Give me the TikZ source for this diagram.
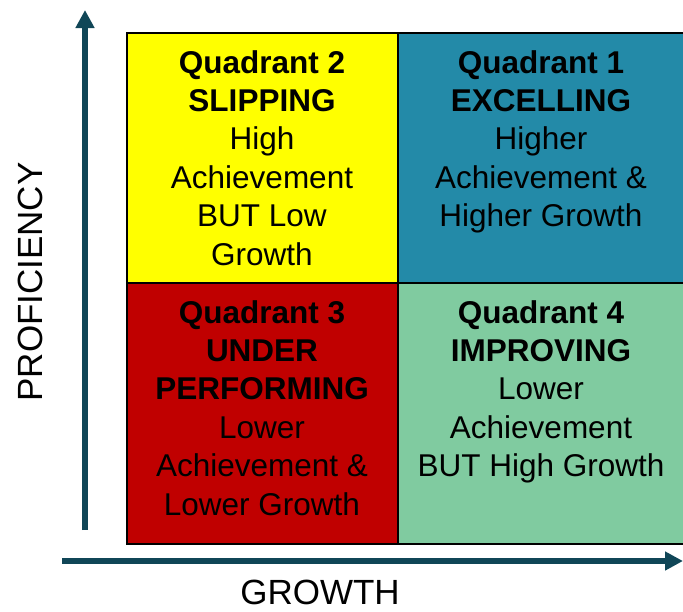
\documentclass[tikz,border=0pt]{standalone}
\usepackage{fontspec}
\setmainfont{Liberation Sans}
\usetikzlibrary{arrows.meta}
\definecolor{qyellow}{HTML}{FFFF00}
\definecolor{qblue}{HTML}{238AA8}
\definecolor{qred}{HTML}{C00000}
\definecolor{qgreen}{HTML}{80CBA0}
\definecolor{axiscol}{HTML}{104657}
\begin{document}
\begin{tikzpicture}[x=1pt,y=-1pt,
  quad/.style={draw=black, line width=1.5pt, anchor=north west, inner sep=0pt},
  qtext/.style={anchor=base, inner sep=0pt, font=\fontsize{31.5}{38}\selectfont},
  axislabel/.style={inner sep=0pt, font=\fontsize{35}{40}\selectfont},
  axisarrow/.style={draw=axiscol, line width=6pt, -{Triangle[length=18pt,width=18pt]}}]
\useasboundingbox (0,0) rectangle (683,611);
\node[quad, fill=qyellow, minimum width=271pt, minimum height=250pt] (q2) at (126,32) {};
\node[quad, fill=qblue, minimum width=300pt, minimum height=250pt] (q1) at (397,32) {};
\node[quad, fill=qred, minimum width=271pt, minimum height=261pt] (q3) at (126,282) {};
\node[quad, fill=qgreen, minimum width=300pt, minimum height=261pt] (q4) at (397,282) {};
\coordinate (vs) at (85,530);
\coordinate (ve) at (85,10);
\coordinate (hs) at (62,561);
\coordinate (he) at (683,561);
\draw[axisarrow] (vs) -- (ve);
\draw[axisarrow] (hs) -- (he);
\node[axislabel, rotate=90] (ylab) at (30,282) {PROFICIENCY};
\node[axislabel] (xlab) at (320,592) {GROWTH};
\foreach \t [count=\i] in {\textbf{Quadrant 2},\textbf{SLIPPING},High,Achievement,BUT Low,Growth}
  \node[qtext] (q2l\i) at (262,{73+38.4*(\i-1)}) {\t};
\foreach \t [count=\i] in {\textbf{Quadrant 1},\textbf{EXCELLING},Higher,Achievement \&,Higher Growth}
  \node[qtext] (q1l\i) at (541,{73+38.4*(\i-1)}) {\t};
\foreach \t [count=\i] in {\textbf{Quadrant 3},\textbf{UNDER},\textbf{PERFORMING},Lower,Achievement \&,Lower Growth}
  \node[qtext] (q3l\i) at (262,{323+38.4*(\i-1)}) {\t};
\foreach \t [count=\i] in {\textbf{Quadrant 4},\textbf{IMPROVING},Lower,Achievement,BUT High Growth}
  \node[qtext] (q4l\i) at (541,{323+38.4*(\i-1)}) {\t};
\end{tikzpicture}
\end{document}
